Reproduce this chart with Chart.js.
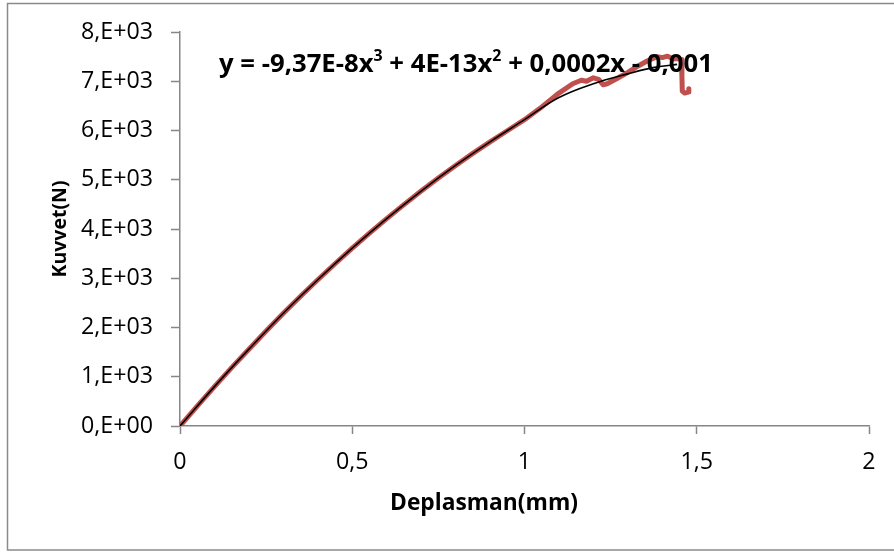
<!DOCTYPE html>
<html>
<head>
<meta charset="utf-8">
<script src="https://cdn.jsdelivr.net/npm/chart.js@4.4.1/dist/chart.umd.min.js"></script>
<style>
  html, body { margin: 0; padding: 0; background: #ffffff; }
  #wrap { width: 894px; height: 552px; position: relative; }
  canvas { display: block; }
</style>
</head>
<body>
<div id="wrap"><canvas id="chart" width="894" height="552"></canvas></div>
<script>
// ---- data ----
const xTickValues = [0, 0.5, 1, 1.5, 2];
const yTickValues = [0, 1000, 2000, 3000, 4000, 5000, 6000, 7000, 8000];

// measured force-displacement curve (mm, N)
const measuredX = [0, 0.05, 0.1, 0.15, 0.2, 0.25, 0.3, 0.35, 0.4, 0.45, 0.5, 0.55, 0.6, 0.65, 0.7, 0.75, 0.8, 0.85, 0.9, 0.95, 1.0, 1.045, 1.10, 1.14, 1.165, 1.18, 1.20, 1.215, 1.228, 1.24, 1.27, 1.30, 1.33, 1.356, 1.385, 1.40, 1.415, 1.432, 1.445, 1.455, 1.457, 1.458, 1.465, 1.475, 1.477];
const measuredY = [0, 405, 800, 1185, 1560, 1930, 2290, 2635, 2970, 3295, 3610, 3915, 4210, 4495, 4770, 5035, 5290, 5535, 5770, 5995, 6220, 6450, 6760, 6950, 7020, 7000, 7070, 7040, 6930, 6950, 7060, 7180, 7310, 7410, 7500, 7480, 7510, 7450, 7460, 7440, 7100, 6800, 6760, 6780, 6850];

// polynomial trendline as drawn (mm, N)
const trendX = [0, 0.1, 0.2, 0.3, 0.4, 0.5, 0.6, 0.7, 0.8, 0.9, 1.0, 1.1, 1.2, 1.3, 1.373, 1.443];
const trendY = [0, 800, 1560, 2290, 2970, 3610, 4210, 4770, 5290, 5770, 6220, 6670, 6950, 7150, 7276, 7343];

const xAxisTitle = 'Deplasman(mm)';
const yAxisTitle = 'Kuvvet(N)';
// equation text: [text, isSuperscript]
const equationParts = [
  ['y = -9,37E-8x', false], ['3', true],
  [' + 4E-13x', false], ['2', true],
  [' + 0,0002x - 0,001', false]
];

// ---- styling ----
const AXIS_GREY = '#868686';
const FAMILY = '"Open Sans", sans-serif';

const measureCtx = document.createElement('canvas').getContext('2d');
function fitSize(text, weight, targetWidth) {
  measureCtx.font = weight + ' 100px ' + FAMILY;
  return +(100 * targetWidth / measureCtx.measureText(text).width).toFixed(2);
}
const tickSize = fitSize('8,E+03', 'normal', 72);
const yTitleSize = fitSize(yAxisTitle, 'bold', 97);
const xTitleSize = fitSize(xAxisTitle, 'bold', 188);

function fmtY(v) {
  return v === 0 ? '0,E+00' : (v / 1000) + ',E+03';
}
function fmtX(v) {
  return String(v).replace('.', ',');
}

const decorPlugin = {
  id: 'decor',
  beforeDraw(chart) {
    const ctx = chart.ctx;
    ctx.save();
    ctx.fillStyle = '#ffffff';
    ctx.fillRect(0, 0, chart.width, chart.height);
    ctx.strokeStyle = '#8a8a8a';
    ctx.lineWidth = 1.5;
    ctx.strokeRect(7.5, 3.5, 920, 546.5);
    ctx.restore();
  },
  afterDraw(chart) {
    const ctx = chart.ctx;
    ctx.save();
    // x axis title
    ctx.fillStyle = '#000000';
    ctx.font = 'bold ' + xTitleSize + 'px ' + FAMILY;
    ctx.textAlign = 'center';
    ctx.textBaseline = 'middle';
    ctx.fillText(xAxisTitle, 484, 504);

    // trendline equation
    const base = 26;
    const sup = base * 0.62;
    let total = 0;
    equationParts.forEach(([t, s]) => { ctx.font = 'bold ' + (s ? sup : base) + 'px ' + FAMILY; total += ctx.measureText(t).width; });
    const k = 494 / total;
    let x = 219;
    const baseline = 72;
    ctx.textAlign = 'left';
    ctx.textBaseline = 'alphabetic';
    equationParts.forEach(([t, s]) => {
      const sz = (s ? sup : base) * k;
      ctx.font = 'bold ' + sz.toFixed(2) + 'px ' + FAMILY;
      ctx.fillText(t, x, s ? baseline - base * k * 0.42 : baseline);
      x += ctx.measureText(t).width;
    });
    ctx.restore();
  }
};

const measuredData = measuredX.map((x, i) => ({ x: x, y: measuredY[i] }));
const trendData = trendX.map((x, i) => ({ x: x, y: trendY[i] }));

new Chart(document.getElementById('chart'), {
  type: 'scatter',
  data: {
    datasets: [
      {
        label: 'Trend',
        data: trendData,
        showLine: true,
        borderColor: '#000000',
        borderWidth: 1.6,
        pointRadius: 0,
        tension: 0.4
      },
      {
        label: 'Ölçüm',
        data: measuredData,
        showLine: true,
        borderColor: '#C0504D',
        borderWidth: 5,
        pointRadius: 0,
        tension: 0,
        borderJoinStyle: 'round',
        borderCapStyle: 'round'
      }
    ]
  },
  options: {
    responsive: false,
    animation: false,
    devicePixelRatio: 1,
    layout: { padding: { left: 0, top: 32, right: 25, bottom: 0 } },
    plugins: {
      legend: { display: false },
      tooltip: { enabled: false }
    },
    scales: {
      x: {
        type: 'linear',
        min: 0, max: 2,
        afterBuildTicks(scale) { scale.ticks = xTickValues.map(v => ({ value: v })); },
        afterFit(scale) { scale.height = 552 - 426; },
        ticks: {
          callback: (v) => fmtX(v),
          font: { family: FAMILY, size: tickSize },
          color: '#000000',
          padding: 14,
          maxRotation: 0,
          autoSkip: false
        },
        grid: {
          drawOnChartArea: false,
          drawTicks: true,
          tickLength: 8,
          tickColor: AXIS_GREY,
          tickWidth: 1.5
        },
        border: { color: AXIS_GREY, width: 1.5 }
      },
      y: {
        type: 'linear',
        min: 0, max: 8000,
        afterBuildTicks(scale) { scale.ticks = yTickValues.map(v => ({ value: v })); },
        afterFit(scale) { scale.width = 180; },
        ticks: {
          callback: (v) => fmtY(v),
          font: { family: FAMILY, size: tickSize },
          color: '#000000',
          padding: 18,
          autoSkip: false
        },
        grid: {
          drawOnChartArea: false,
          drawTicks: true,
          tickLength: 9,
          tickColor: AXIS_GREY,
          tickWidth: 1.5
        },
        border: { color: AXIS_GREY, width: 1.5 },
        title: {
          display: true,
          text: yAxisTitle,
          color: '#000000',
          font: { family: FAMILY, size: yTitleSize, weight: 'bold', lineHeight: 1.2 },
          padding: { top: 60 - yTitleSize * 0.6, bottom: 0 }
        }
      }
    }
  },
  plugins: [decorPlugin]
});
</script>
</body>
</html>
